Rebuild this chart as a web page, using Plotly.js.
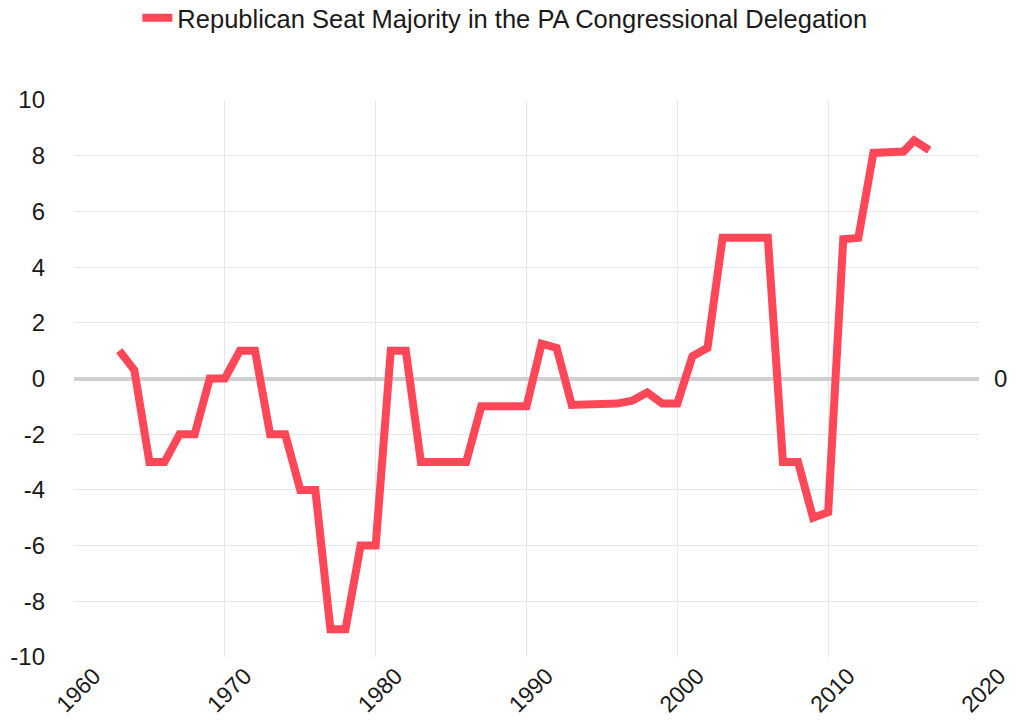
<!DOCTYPE html>
<html>
<head>
<meta charset="utf-8">
<script src="https://cdn.plot.ly/plotly-3.0.1.min.js"></script>
<style>html,body{margin:0;padding:0;background:#fff;}#chart{width:1020px;height:723px;}</style>
</head>
<body>
<div id="chart"></div>
<script>
var seriesName = 'Republican Seat Majority in the PA Congressional Delegation';
var years = [1963, 1964, 1965, 1966, 1967, 1968, 1969, 1970, 1971, 1972, 1973, 1974, 1975, 1976, 1977, 1978, 1979, 1980,
             1981, 1982, 1983, 1984, 1985, 1986, 1987, 1988, 1989, 1990, 1991, 1992, 1993, 1994, 1995, 1996, 1997, 1998, 1999, 2000,
             2001, 2002, 2003, 2004, 2005, 2006, 2007, 2008, 2009, 2010, 2011, 2012, 2013, 2014, 2015, 2015.7, 2016.7];
var majority = [1, 0.3, -3, -3, -2, -2, 0, 0, 1, 1, -2, -2, -4, -4, -9, -9, -6, -6,
                1, 1, -3, -3, -3, -3, -1, -1, -1, -1, 1.25, 1.1, -0.95, -0.95, -0.95, -0.9, -0.8, -0.5, -0.9, -0.9,
                0.8, 1.1, 5.05, 5.05, 5.05, 5.05, -3, -3, -5, -4.8, 5, 5.05, 8.1, 8.1, 8.15, 8.55, 8.2];
var yTicks = [-10, -8, -6, -4, -2, 0, 2, 4, 6, 8, 10];
var xTicks = [1960, 1970, 1980, 1990, 2000, 2010, 2020];

var trace = {
  x: years, y: majority, type: 'scatter', mode: 'lines', name: seriesName,
  line: {color: '#ff4757', width: 8, shape: 'linear'}
};
var layout = {
  width: 1020, height: 723,
  margin: {l: 74, r: 41, t: 100, b: 66, autoexpand: false},
  paper_bgcolor: '#fff', plot_bgcolor: '#fff',
  font: {family: 'Liberation Sans, Arial, sans-serif', color: '#1a1a1a', size: 24},
  showlegend: true,
  legend: {orientation: 'h', x: 0.07, xanchor: 'left', y: 1.147, yanchor: 'middle',
           font: {size: 25.5, color: '#1a1a1a'}, itemwidth: 30},
  xaxis: {range: [1960, 2020], tickvals: xTicks, ticktext: xTicks.map(String), tickangle: -45,
          showgrid: true, gridcolor: '#e6e6e6', gridwidth: 1, zeroline: false, showline: false,
          ticks: '', ticklabelshift: 20, tickfont: {size: 23, color: '#1a1a1a'}},
  yaxis: {range: [-10, 10], tickvals: yTicks, ticktext: yTicks.map(String),
          showgrid: true, gridcolor: '#e6e6e6', gridwidth: 1,
          zeroline: true, zerolinecolor: '#cfcfcf', zerolinewidth: 4, showline: false,
          ticks: '', ticklabelstandoff: 28, tickfont: {size: 24, color: '#1a1a1a'}},
  annotations: [{xref: 'paper', yref: 'y', x: 1, y: 0, xshift: 30, text: '0', showarrow: false,
                 font: {size: 24, color: '#1a1a1a'}}]
};
Plotly.newPlot('chart', [trace], layout, {displayModeBar: false, staticPlot: true});
</script>
</body>
</html>
